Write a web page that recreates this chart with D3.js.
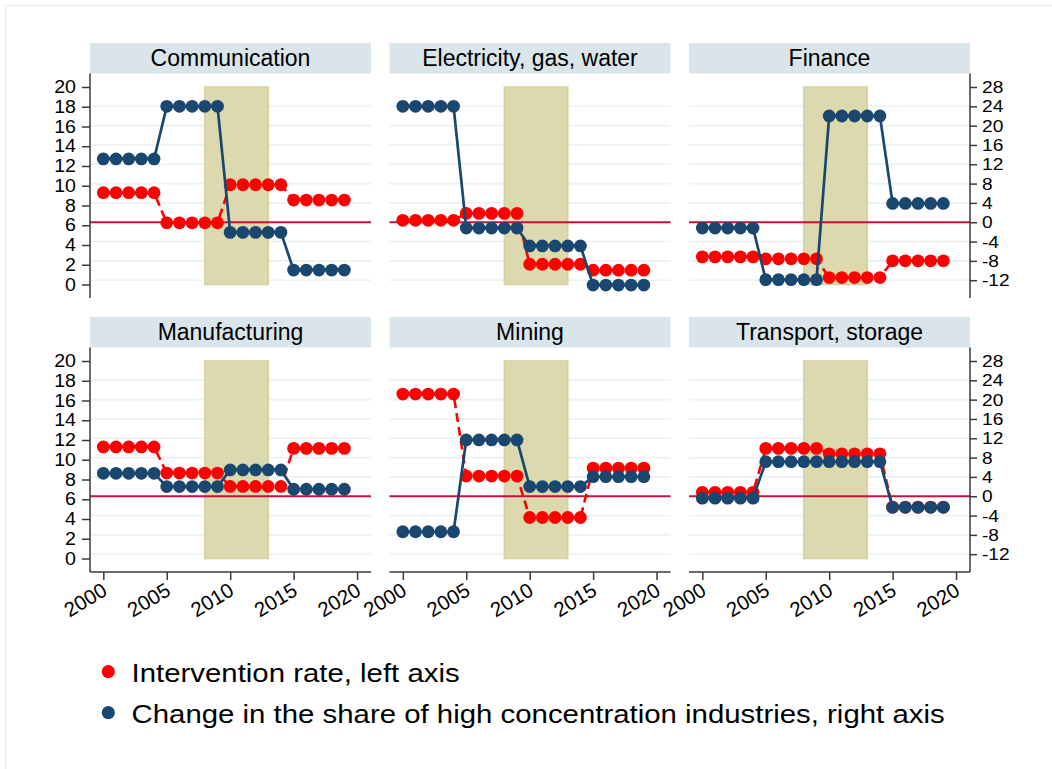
<!DOCTYPE html>
<html>
<head>
<meta charset="utf-8">
<script src="https://cdn.jsdelivr.net/npm/d3@7"></script>
<style>
  html, body { margin: 0; padding: 0; background: #fff; }
  svg { display: block; font-family: "Liberation Sans", Arial, sans-serif; }
</style>
</head>
<body>
<svg id="chart" width="1052" height="769"></svg>
<script>
// ---- data -------------------------------------------------------------
const years = [2000, 2001, 2002, 2003, 2004, 2005, 2006, 2007, 2008, 2009,
               2010, 2011, 2012, 2013, 2014, 2015, 2016, 2017, 2018, 2019];

const sectors = ["Communication", "Electricity, gas, water", "Finance",
                 "Manufacturing", "Mining", "Transport, storage"];

// Intervention rate (left axis)
const rateCommunication = [9.3, 9.3, 9.3, 9.3, 9.3, 6.25, 6.25, 6.25, 6.25, 6.25, 10.1, 10.1, 10.1, 10.1, 10.1, 8.55, 8.55, 8.55, 8.55, 8.55];
const rateElectricity   = [6.5, 6.5, 6.5, 6.5, 6.5, 7.2, 7.2, 7.2, 7.2, 7.2, 2.05, 2.05, 2.05, 2.05, 2.05, 1.45, 1.45, 1.45, 1.45, 1.45];
const rateFinance       = [2.8, 2.8, 2.8, 2.8, 2.8, 2.6, 2.6, 2.6, 2.6, 2.6, 0.7, 0.7, 0.7, 0.7, 0.7, 2.4, 2.4, 2.4, 2.4, 2.4];
const rateManufacturing = [11.3, 11.3, 11.3, 11.3, 11.3, 8.65, 8.65, 8.65, 8.65, 8.65, 7.3, 7.3, 7.3, 7.3, 7.3, 11.15, 11.15, 11.15, 11.15, 11.15];
const rateMining        = [16.65, 16.65, 16.65, 16.65, 16.65, 8.35, 8.35, 8.35, 8.35, 8.35, 4.15, 4.15, 4.15, 4.15, 4.15, 9.15, 9.15, 9.15, 9.15, 9.15];
const rateTransport     = [6.7, 6.7, 6.7, 6.7, 6.7, 11.15, 11.15, 11.15, 11.15, 11.15, 10.6, 10.6, 10.6, 10.6, 10.6, 5.2, 5.2, 5.2, 5.2, 5.2];

// Change in the share of high concentration industries (right axis)
const shareCommunication = [13.1, 13.1, 13.1, 13.1, 13.1, 24.0, 24.0, 24.0, 24.0, 24.0, -2.1, -2.1, -2.1, -2.1, -2.1, -9.9, -9.9, -9.9, -9.9, -9.9];
const shareElectricity   = [24.0, 24.0, 24.0, 24.0, 24.0, -1.2, -1.2, -1.2, -1.2, -1.2, -4.9, -4.9, -4.9, -4.9, -4.9, -13.0, -13.0, -13.0, -13.0, -13.0];
const shareFinance       = [-1.2, -1.2, -1.2, -1.2, -1.2, -11.9, -11.9, -11.9, -11.9, -11.9, 22.0, 22.0, 22.0, 22.0, 22.0, 3.9, 3.9, 3.9, 3.9, 3.9];
const shareManufacturing = [4.75, 4.75, 4.75, 4.75, 4.75, 2.0, 2.0, 2.0, 2.0, 2.0, 5.45, 5.45, 5.45, 5.45, 5.45, 1.45, 1.45, 1.45, 1.45, 1.45];
const shareMining        = [-7.35, -7.35, -7.35, -7.35, -7.35, 11.65, 11.65, 11.65, 11.65, 11.65, 2.0, 2.0, 2.0, 2.0, 2.0, 4.05, 4.05, 4.05, 4.05, 4.05];
const shareTransport     = [-0.4, -0.4, -0.4, -0.4, -0.4, 7.15, 7.15, 7.15, 7.15, 7.15, 7.15, 7.15, 7.15, 7.15, 7.15, -2.3, -2.3, -2.3, -2.3, -2.3];

const rateSeries  = [rateCommunication, rateElectricity, rateFinance, rateManufacturing, rateMining, rateTransport];
const shareSeries = [shareCommunication, shareElectricity, shareFinance, shareManufacturing, shareMining, shareTransport];

const leftTicks  = [0, 2, 4, 6, 8, 10, 12, 14, 16, 18, 20];
const rightTicks = [-12, -8, -4, 0, 4, 8, 12, 16, 20, 24, 28];
const gridTicks  = [-12, -8, -4, 4, 8, 12, 16, 20, 24];
const yearTicks  = [2000, 2005, 2010, 2015, 2020];
const crisisSpan = [2008, 2013];

const legendLabels = ["Intervention rate, left axis",
                      "Change in the share of high concentration industries, right axis"];

// ---- layout & styles --------------------------------------------------
const colX = [90, 389.5, 689];
const stripTop = [43, 317];
const plotTop = [74, 348];
const plotW = 281, plotH = 224, stripH = 30.5;

const RED = "#ff0000", BLUE = "#1a476f", REFLINE = "#c8103c";
const AXIS = "#3a3a3a";
const FONT = "Liberation Sans, Arial, sans-serif";

const svg = d3.select("#chart");

// faint outline of the graph region
svg.append("rect").attr("x", 5.5).attr("y", 5.5).attr("width", 1100).attr("height", 1100)
  .attr("fill", "none").attr("stroke", "#e4ecef").attr("stroke-width", 1);

const x = d3.scaleLinear().domain([1998.95, 2021.1]).range([0, plotW]);
const yL = d3.scaleLinear().domain([0, 20]).range([210.5, 13]);
const yR = d3.scaleLinear().domain([-12, 28]).range([206.2, 13]);

sectors.forEach((name, i) => {
  const col = i % 3, row = Math.floor(i / 3);
  const rates = rateSeries[i], shares = shareSeries[i];

  // panel header strip
  svg.append("rect")
    .attr("x", colX[col]).attr("y", stripTop[row])
    .attr("width", plotW).attr("height", stripH)
    .attr("fill", "#d9e5eb");
  svg.append("text")
    .attr("x", colX[col] + plotW / 2).attr("y", stripTop[row] + 22.5)
    .attr("text-anchor", "middle").attr("font-size", 23).attr("fill", "#000")
    .text(name);

  const g = svg.append("g").attr("transform", `translate(${colX[col]},${plotTop[row]})`);

  // horizontal gridlines
  g.selectAll("line.grid").data(gridTicks).join("line")
    .attr("class", "grid")
    .attr("x1", 0).attr("x2", plotW)
    .attr("y1", d => yR(d)).attr("y2", d => yR(d))
    .attr("stroke", "#eaf2f3").attr("stroke-width", 1.6);

  // shaded period
  g.append("rect")
    .attr("x", x(crisisSpan[0])).attr("width", x(crisisSpan[1]) - x(crisisSpan[0]))
    .attr("y", yL(20)).attr("height", yL(0) - yL(20))
    .attr("fill", "#dcd9ae").attr("stroke", "#d5d19e").attr("stroke-width", 1.5);

  // reference line at zero change
  g.append("line")
    .attr("x1", 0).attr("x2", plotW)
    .attr("y1", yR(0)).attr("y2", yR(0))
    .attr("stroke", REFLINE).attr("stroke-width", 1.8);

  // intervention rate: dashed red with markers
  const rateLine = d3.line().x((d, k) => x(years[k])).y(d => yL(d));
  g.append("path").datum(rates)
    .attr("d", rateLine).attr("fill", "none")
    .attr("stroke", RED).attr("stroke-width", 2.6).attr("stroke-dasharray", "9,5");
  g.selectAll("circle.rate").data(rates).join("circle")
    .attr("class", "rate")
    .attr("cx", (d, k) => x(years[k])).attr("cy", d => yL(d)).attr("r", 6.4)
    .attr("fill", RED);

  // share change: solid navy with markers
  const shareLine = d3.line().x((d, k) => x(years[k])).y(d => yR(d));
  g.append("path").datum(shares)
    .attr("d", shareLine).attr("fill", "none")
    .attr("stroke", BLUE).attr("stroke-width", 2.7);
  g.selectAll("circle.share").data(shares).join("circle")
    .attr("class", "share")
    .attr("cx", (d, k) => x(years[k])).attr("cy", d => yR(d)).attr("r", 6.4)
    .attr("fill", BLUE);

  // left axis on first column
  if (col === 0) {
    const ax = g.append("g").call(d3.axisLeft(yL).tickValues(leftTicks)
      .tickSize(8).tickPadding(6).tickFormat(d => String(d)));
    ax.select(".domain").remove();
    g.append("line").attr("x1", 0).attr("x2", 0).attr("y1", -0.5).attr("y2", plotH)
      .attr("stroke", AXIS).attr("stroke-width", 1.5);
    ax.selectAll(".tick line").attr("stroke", AXIS).attr("stroke-width", 1.5);
    ax.selectAll(".tick text").attr("font-size", 17.5).attr("fill", "#000")
      .attr("font-family", FONT)
      .attr("x", 0).attr("transform", "translate(-14,0) scale(1.12,1)");
  }
  // right axis on last column
  if (col === 2) {
    const ax = g.append("g").attr("transform", `translate(${plotW},0)`)
      .call(d3.axisRight(yR).tickValues(rightTicks)
      .tickSize(7).tickPadding(5).tickFormat(d => String(d)));
    ax.select(".domain").remove();
    g.append("line").attr("x1", plotW).attr("x2", plotW).attr("y1", -0.5).attr("y2", plotH)
      .attr("stroke", AXIS).attr("stroke-width", 1.5);
    ax.selectAll(".tick line").attr("stroke", AXIS).attr("stroke-width", 1.5);
    ax.selectAll(".tick text").attr("font-size", 17.1).attr("fill", "#000")
      .attr("font-family", FONT)
      .attr("x", 0).attr("transform", "translate(12,0) scale(1.12,1)");
  }
  // year axis on bottom row
  if (row === 1) {
    const ax = g.append("g").attr("transform", `translate(0,${plotH})`)
      .call(d3.axisBottom(x).tickValues(yearTicks).tickSize(8).tickFormat(d => String(d)));
    ax.select(".domain").remove();
    g.append("line").attr("x1", 0).attr("x2", plotW).attr("y1", plotH).attr("y2", plotH)
      .attr("stroke", AXIS).attr("stroke-width", 1.5);
    ax.selectAll(".tick line").attr("stroke", AXIS).attr("stroke-width", 1.5);
    ax.selectAll(".tick text")
      .attr("font-size", 20.5).attr("fill", "#000")
      .attr("font-family", FONT)
      .attr("text-anchor", "end")
      .attr("x", 0).attr("y", 0).attr("dy", "0.35em")
      .attr("transform", "translate(1,16) rotate(-31)");
  }
});

// ---- legend -----------------------------------------------------------
const legendColors = [RED, BLUE];
const legendY = [671.7, 712.7];
legendLabels.forEach((label, k) => {
  svg.append("circle").attr("cx", 108.3).attr("cy", legendY[k]).attr("r", 6.6)
    .attr("fill", legendColors[k]);
  svg.append("text")
    .attr("transform", `translate(131.5,${legendY[k] + 9.8}) scale(1.13,1)`)
    .attr("font-size", 26).attr("fill", "#000")
    .text(label);
});
</script>
</body>
</html>
